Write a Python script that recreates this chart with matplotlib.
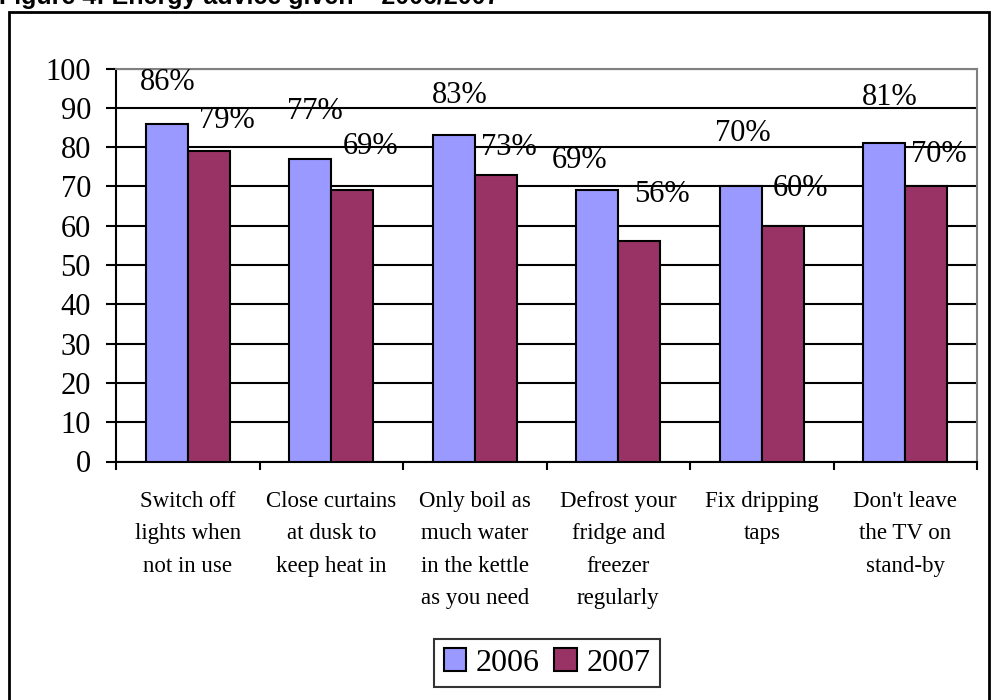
import matplotlib
matplotlib.use("Agg")
import matplotlib.pyplot as plt
from matplotlib.patches import Rectangle
import numpy as np

# Energy advice given, percentages per year
categories = [
    "Switch off\nlights when\nnot in use",
    "Close curtains\nat dusk to\nkeep heat in",
    "Only boil as\nmuch water\nin the kettle\nas you need",
    "Defrost your\nfridge and\nfreezer\nregularly",
    "Fix dripping\ntaps",
    "Don't leave\nthe TV on\nstand-by",
]
values_2006 = [86, 77, 83, 69, 70, 81]
values_2007 = [79, 69, 73, 56, 60, 70]
series_names = ["2006", "2007"]
y_ticks = [0, 10, 20, 30, 40, 50, 60, 70, 80, 90, 100]

# label offsets from the bar top, in pixels (dx, dy up), as placed in the original
offsets_2006 = [(1, 41), (5, 47), (6, 40), (-18, 30), (2, 53), (5, 46)]
offsets_2007 = [(18, 31), (18, 44), (13, 27), (23, 47), (18, 37), (13, 32)]

plt.rcParams['font.family'] = ['Liberation Serif', 'DejaVu Serif']

fig = plt.figure(figsize=(9.92, 7), dpi=100)
ax = fig.add_axes([116 / 992, 1 - 461.5 / 700, 861 / 992, 393 / 700])

x = np.arange(len(categories))
width = 0.2925
bars1 = ax.bar(x - width / 2, values_2006, width, color='#9999FF',
               edgecolor='black', linewidth=1.5, label=series_names[0], zorder=3)
bars2 = ax.bar(x + width / 2, values_2007, width, color='#993366',
               edgecolor='black', linewidth=1.5, label=series_names[1], zorder=3)

# data labels
px = 72 / 100
for bars, vals, offs in [(bars1, values_2006, offsets_2006), (bars2, values_2007, offsets_2007)]:
    for b, v, (dx, dy) in zip(bars, vals, offs):
        ax.annotate(f"{v}%", (b.get_x() + b.get_width() / 2, v),
                    xytext=(dx * px, dy * px), textcoords='offset points',
                    ha='center', va='center', fontsize=22, zorder=4)

ax.set_xlim(-0.5, len(categories) - 0.5)
ax.set_ylim(0, 100)
ax.set_yticks(y_ticks)
ax.tick_params(axis='y', labelsize=22, length=7, width=1.5, pad=11)
ax.yaxis.grid(True, color='black', linewidth=1.5, zorder=0)
ax.set_axisbelow(True)

# category boundaries as ticks, labels at centers
ax.set_xticks(np.arange(-0.5, len(categories)))
ax.set_xticklabels([])
ax.set_xticks(x, minor=True)
ax.set_xticklabels(categories, minor=True, fontsize=16.5, linespacing=1.72)
ax.tick_params(axis='x', which='major', length=6, width=1.5, direction='out')
ax.tick_params(axis='x', which='minor', length=0, pad=21)

ax.spines['left'].set_linewidth(1.5)
ax.spines['bottom'].set_linewidth(1.5)
ax.spines['top'].set_color('#808080')
ax.spines['right'].set_color('#808080')
ax.spines['top'].set_linewidth(1.5)
ax.spines['right'].set_linewidth(1.5)

leg = fig.legend(handles=[bars1, bars2], loc='center', bbox_to_anchor=(547 / 992, 1 - 663 / 700),
                 ncol=2, fontsize=23, frameon=True, fancybox=False, edgecolor='black',
                 handlelength=0.7, handleheight=0.7, handletextpad=0.3, columnspacing=0.45,
                 borderpad=0.3, borderaxespad=0)
leg.get_frame().set_linewidth(1.5)

# outer frame and clipped title
fig.patches.append(Rectangle((9 / 992, -0.05), 980 / 992, 1.05 - 12 / 700,
                             transform=fig.transFigure, fill=False,
                             edgecolor='black', linewidth=2))
fig.text(-1 / 992, 1 - 4 / 700, "Figure 4: Energy advice given \u2013 2006/2007",
         family='Liberation Sans', fontweight='bold', fontsize=18, va='baseline', ha='left')

fig.savefig('out.png', dpi=100)
